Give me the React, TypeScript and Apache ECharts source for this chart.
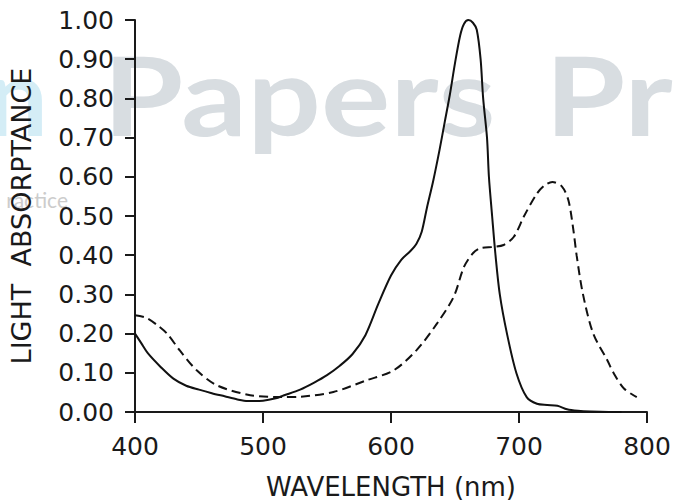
import React, { useEffect, useRef } from "react";
import * as echarts from "echarts";

// Solid curve
const solidWavelength = [400, 405, 410, 420, 430, 440, 450, 460, 470, 480, 488, 500, 510, 516, 529, 540, 550, 560, 570, 580, 590, 600, 608, 615, 620, 624, 628, 633, 638, 642, 646, 650, 654, 657, 660.5, 664, 667, 670, 672, 675, 676.5, 679, 681.5, 685, 690.6, 698, 706, 714, 722, 730, 737.5, 746, 756, 770, 780];
const solidAbsorptance = [0.2, 0.175, 0.15, 0.115, 0.085, 0.067, 0.057, 0.048, 0.04, 0.032, 0.028, 0.029, 0.035, 0.042, 0.057, 0.075, 0.094, 0.118, 0.148, 0.196, 0.275, 0.348, 0.388, 0.41, 0.43, 0.46, 0.52, 0.59, 0.67, 0.74, 0.81, 0.89, 0.96, 0.99, 1.0, 0.993, 0.975, 0.9, 0.8, 0.7, 0.6, 0.5, 0.405, 0.3, 0.2, 0.099, 0.038, 0.021, 0.018, 0.016, 0.007, 0.003, 0.001, 0.0, 0.0];

// Dashed curve
const dashedWavelength = [400, 409, 418, 425, 435, 448, 464, 490, 516, 529, 555, 581, 602, 620, 636, 649, 657, 664, 670, 680, 688, 696, 704, 714, 720, 726, 733.6, 738.6, 742.5, 745, 750, 758, 769, 774, 782, 792];
const dashedAbsorptance = [0.247, 0.24, 0.22, 0.2, 0.157, 0.107, 0.068, 0.043, 0.038, 0.039, 0.051, 0.081, 0.106, 0.158, 0.226, 0.294, 0.37, 0.405, 0.418, 0.421, 0.426, 0.447, 0.5, 0.557, 0.578, 0.587, 0.575, 0.54, 0.464, 0.4, 0.3, 0.2, 0.132, 0.099, 0.06, 0.038];

const xTicks = { min: 400, max: 800, interval: 100 };
const yTicks = { min: 0, max: 1, interval: 0.1 };

const xName = "WAVELENGTH (nm)";
const yName = "LIGHT  ABSORPTANCE";

const pairs = (xs: number[], ys: number[]) => xs.map((x, i) => [x, ys[i]]);

export default function App() {
  const ref = useRef<HTMLDivElement>(null);
  useEffect(() => {
    if (!ref.current) return;
    const chart = echarts.init(ref.current, undefined, { renderer: "svg" });
    const font = "DejaVu Sans";
    chart.setOption({
      animation: false,
      backgroundColor: "#ffffff",
      grid: { left: 135, right: 28, top: 20, bottom: 90, containLabel: false, outerBoundsMode: "none" },
      graphic: [
        {
          type: "text",
          z: -10,
          x: 48,
          y: 93,
          style: { text: "n", align: "right", verticalAlign: "middle", fontSize: 110, fontWeight: "bold", fontFamily: "Lato", fill: "#d4edf6" },
        },
        {
          type: "text",
          z: -10,
          x: 103,
          y: 93,
          scaleX: 1.18,
          style: { text: "Papers", align: "left", verticalAlign: "middle", fontSize: 110, fontWeight: "bold", fontFamily: "Lato", fill: "#d8dde1" },
        },
        {
          type: "text",
          z: -10,
          x: 545,
          y: 93,
          scaleX: 1.18,
          style: { text: "Pr", align: "left", verticalAlign: "middle", fontSize: 110, fontWeight: "bold", fontFamily: "Lato", fill: "#d8dde1" },
        },
        {
          type: "text",
          z: -10,
          x: 68,
          y: 199,
          style: { text: "ractice", align: "right", verticalAlign: "middle", fontSize: 21, fontFamily: "Lato", fill: "#cccccc" },
        },
      ],
      xAxis: {
        type: "value",
        min: xTicks.min,
        max: xTicks.max,
        interval: xTicks.interval,
        name: xName,
        nameLocation: "middle",
        nameGap: 62,
        nameTextStyle: { fontFamily: font, fontSize: 26, color: "#1a1a1a" },
        axisLine: { show: true, lineStyle: { color: "#1a1a1a", width: 2 } },
        axisTick: { show: true, length: 11, lineStyle: { color: "#1a1a1a", width: 2 } },
        axisLabel: { margin: 22, fontFamily: font, fontSize: 25, color: "#1a1a1a" },
        splitLine: { show: false },
      },
      yAxis: {
        type: "value",
        min: yTicks.min,
        max: yTicks.max,
        interval: yTicks.interval,
        name: yName,
        nameLocation: "middle",
        nameGap: 100,
        nameRotate: 90,
        nameTextStyle: { fontFamily: font, fontSize: 27, color: "#1a1a1a" },
        axisLine: { show: true, lineStyle: { color: "#1a1a1a", width: 2 } },
        axisTick: { show: true, length: 10, lineStyle: { color: "#1a1a1a", width: 2 } },
        axisLabel: { margin: 21, fontFamily: font, fontSize: 25, color: "#1a1a1a", formatter: (v: number) => v.toFixed(2) },
        splitLine: { show: false },
      },
      series: [
        {
          type: "line",
          data: pairs(solidWavelength, solidAbsorptance),
          smooth: 0.3,
          showSymbol: false,
          lineStyle: { color: "#111111", width: 2 },
        },
        {
          type: "line",
          data: pairs(dashedWavelength, dashedAbsorptance),
          smooth: 0.3,
          showSymbol: false,
          lineStyle: { color: "#111111", width: 2, type: [9, 5] },
        },
      ],
    });
    return () => chart.dispose();
  }, []);
  return <div ref={ref} style={{ width: 675, height: 502, position: "absolute", left: 0, top: 0 }} />;
}
